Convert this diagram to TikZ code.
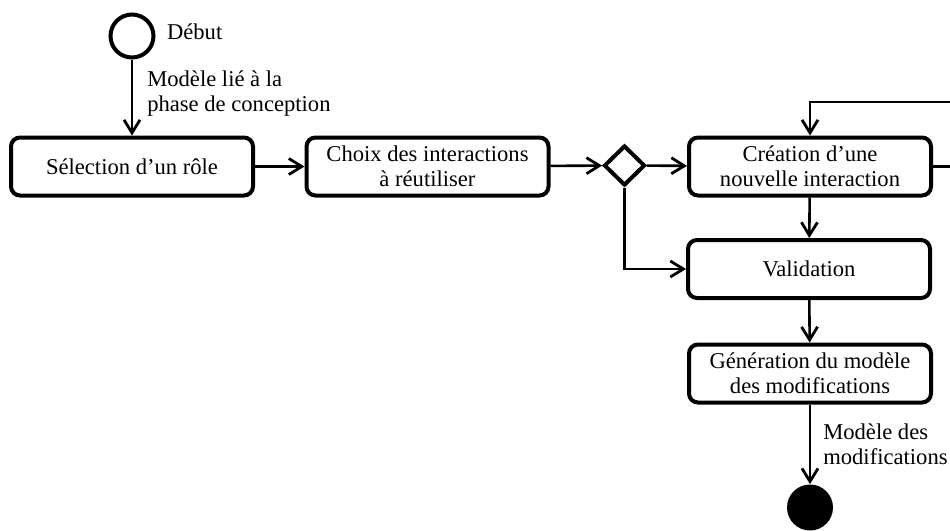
\documentclass[tikz,border=0pt]{standalone}
\usepackage{fontspec}
\setmainfont{Liberation Serif}
\usetikzlibrary{positioning,arrows.meta,shapes.geometric}
\tikzset{
  act/.style  ={draw, rectangle, rounded corners=4.5pt, align=center, line width=2pt, minimum width=121pt, minimum height=29pt, inner sep=1pt},
  dec/.style  ={draw, diamond, line width=2pt, minimum width=20.5pt, minimum height=20pt, inner sep=0pt},
  init/.style ={draw, circle, line width=2pt, minimum size=21.5pt, inner sep=0pt},
  fin/.style  ={fill=black, circle, minimum size=23pt, inner sep=0pt},
  flow/.style ={-{Straight Barb[length=6.5pt,width=8pt,line width=1.4pt]}, line width=1.3pt},
  lbl/.style  ={align=left, inner sep=2pt},
}
\begin{document}
\begin{tikzpicture}[x=0.5pt,y=-0.5pt,font=\fontsize{11.3}{12.5}\selectfont]
  \useasboundingbox (0,0) rectangle (950,531);
  % noeuds
  \node[init] (debut) at (132,36) {};
  \node[anchor=west] (debutlbl) at (160,32) {Début};
  \node[act] (selection) at (132,166.5) {Sélection d'un rôle};
  \node[act] (choix) at (427.5,166.5) {Choix des interactions\\à réutiliser};
  \node[dec] (branche) at (624.5,165.5) {};
  \node[act] (creation) at (810,166.5) {Création d'une\\nouvelle interaction};
  \node[act] (validation) at (809,269) {Validation};
  \node[act] (generation) at (810,373.5) {Génération du modèle\\des modifications};
  \node[fin] (fin) at (810,507.5) {};
  \coordinate (hautdroit) at (952,102);
  \coordinate (basdroit) at (952,166.5);

  % transitions
  \draw[flow] (debut) -- node[lbl, right=5pt, yshift=2pt] {Modèle lié à la\\phase de conception} (selection);
  \draw[flow] (selection) -- (choix);
  \draw[flow] (choix) -- (branche);
  \draw[flow] (branche) -- (creation);
  \draw[flow] (branche.south) |- (validation);
  \draw[flow] (creation) -- (validation);
  \draw[flow] (validation) -- (generation);
  \draw[flow] (generation) -- node[lbl, right=4pt] {Modèle des\\modifications} (fin);
  \draw[line width=1.3pt] (creation) -- (basdroit);
  \draw[flow] (hautdroit) -| (creation);
\end{tikzpicture}
\end{document}
